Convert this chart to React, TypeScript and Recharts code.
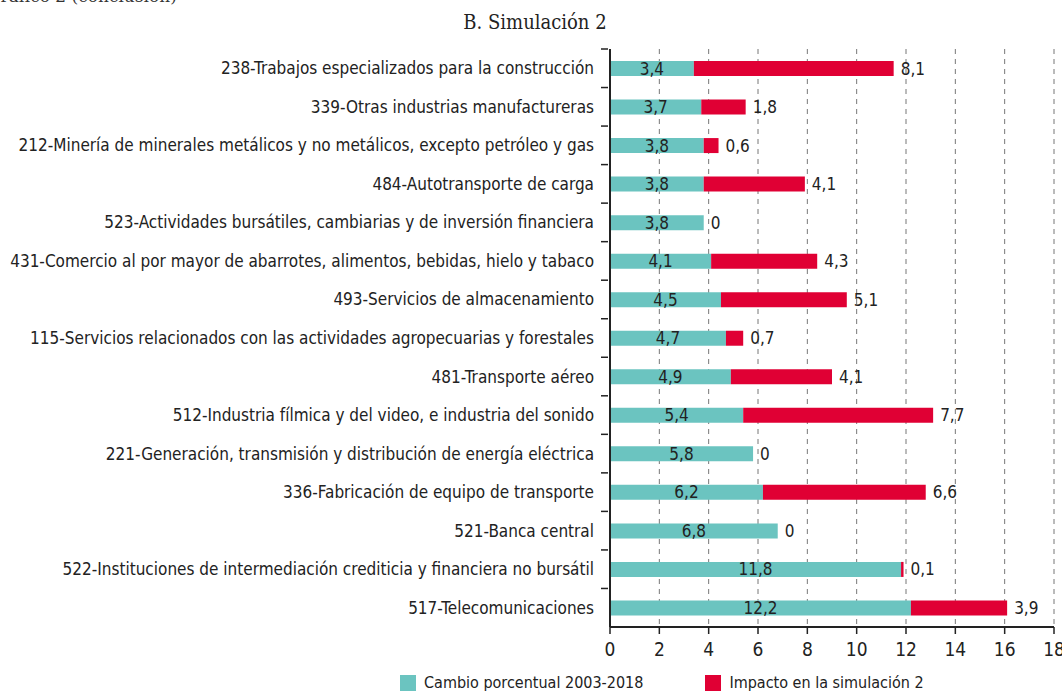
import React from 'react'
import { BarChart, Bar, XAxis, YAxis, CartesianGrid, LabelList } from 'recharts'

const categories = [
  '238-Trabajos especializados para la construcción',
  '339-Otras industrias manufactureras',
  '212-Minería de minerales metálicos y no metálicos, excepto petróleo y gas',
  '484-Autotransporte de carga',
  '523-Actividades bursátiles, cambiarias y de inversión financiera',
  '431-Comercio al por mayor de abarrotes, alimentos, bebidas, hielo y tabaco',
  '493-Servicios de almacenamiento',
  '115-Servicios relacionados con las actividades agropecuarias y forestales',
  '481-Transporte aéreo',
  '512-Industria fílmica y del video, e industria del sonido',
  '221-Generación, transmisión y distribución de energía eléctrica',
  '336-Fabricación de equipo de transporte',
  '521-Banca central',
  '522-Instituciones de intermediación crediticia y financiera no bursátil',
  '517-Telecomunicaciones'
]
const cambio = [3.4, 3.7, 3.8, 3.8, 3.8, 4.1, 4.5, 4.7, 4.9, 5.4, 5.8, 6.2, 6.8, 11.8, 12.2]
const impacto = [8.1, 1.8, 0.6, 4.1, 0, 4.3, 5.1, 0.7, 4.1, 7.7, 0, 6.6, 0, 0.1, 3.9]
const xTicks = [0, 2, 4, 6, 8, 10, 12, 14, 16, 18]

const TEAL = '#6bc4c0'
const RED = '#e00034'
const FONT = '"Liberation Sans Narrow", "DejaVu Sans Condensed", sans-serif'

const data = categories.map((name, i) => ({ name, cambio: cambio[i], impacto: impacto[i] }))

const PLOT_TOP = 49
const PLOT_BOTTOM = 627
const BAND = (PLOT_BOTTOM - PLOT_TOP) / categories.length

const fmt = (v: any) => String(v).replace('.', ',')

// category tick: label at band centre, small tick mark at band top
const CategoryTick = (props: any) => {
  const { x, y, payload } = props
  return (
    <g>
      <line x1={x - 7} x2={x} y1={y - BAND / 2} y2={y - BAND / 2} stroke="#222" strokeWidth={1.5} />
      <text x={x - 14} y={y} dy={6} textAnchor="end" fontSize={17} fill="#222" fontFamily={FONT}>
        {payload.value}
      </text>
    </g>
  )
}

// zero-width red bars draw no label, so the teal bar puts a "0" after itself
const ZeroLabel = (props: any) => {
  const { x, y, width, height, index } = props
  if (impacto[index] !== 0) return null
  return (
    <text x={x + width + 7} y={y + height / 2} dy={6} fontSize={17} fill="#222" fontFamily={FONT}>
      0
    </text>
  )
}

export default function App() {
  return (
    <div style={{ position: 'absolute', left: 0, top: 0, width: 1062, height: 693, background: '#fff', overflow: 'hidden' }}>
      <div style={{ position: 'absolute', left: -13, top: -14, fontFamily: '"DejaVu Serif", serif', fontSize: 17, color: '#333' }}>
        Gráfico 2 (conclusión)
      </div>
      <div style={{ position: 'absolute', left: 0, width: 1070, top: 10, textAlign: 'center', fontFamily: '"DejaVu Serif Condensed", "DejaVu Serif", serif', fontSize: 20, color: '#222' }}>
        B. Simulación 2
      </div>
      <BarChart
        width={1062}
        height={693}
        data={data}
        layout="vertical"
        margin={{ top: PLOT_TOP, right: 8, bottom: 693 - PLOT_BOTTOM - 34, left: 0 }}
        barSize={15}
      >
        <CartesianGrid horizontal={false} stroke="#777" strokeDasharray="5 5" />
        <XAxis
          type="number"
          domain={[0, 18]}
          ticks={xTicks}
          interval={0}
          height={34}
          tick={{ fontSize: 19, fill: '#222', fontFamily: FONT }}
          tickLine={{ stroke: '#222', strokeWidth: 1.5 }}
          axisLine={{ stroke: '#222', strokeWidth: 2 }}
          tickSize={7}
          tickMargin={9}
        />
        <YAxis
          type="category"
          dataKey="name"
          width={610}
          interval={0}
          tick={<CategoryTick />}
          tickLine={false}
          tickSize={0}
          axisLine={{ stroke: '#222', strokeWidth: 2 }}
        />
        <Bar dataKey="cambio" stackId="a" fill={TEAL} isAnimationActive={false}>
          <LabelList dataKey="cambio" position="center" formatter={fmt} fill="#222" fontSize={17} fontFamily={FONT} />
          <LabelList dataKey="impacto" content={<ZeroLabel />} />
        </Bar>
        <Bar dataKey="impacto" stackId="a" fill={RED} isAnimationActive={false}>
          <LabelList dataKey="impacto" position="right" offset={7} formatter={fmt} fill="#222" fontSize={17} fontFamily={FONT} />
        </Bar>
      </BarChart>
      <div style={{ position: 'absolute', top: 673, left: 400, display: 'flex', alignItems: 'center', fontFamily: FONT, fontSize: 16, color: '#222' }}>
        <span style={{ width: 16, height: 16, background: TEAL, display: 'inline-block', marginRight: 8 }} />
        <span style={{ marginRight: 62 }}>Cambio porcentual 2003-2018</span>
        <span style={{ width: 16, height: 16, background: RED, display: 'inline-block', marginRight: 8 }} />
        <span>Impacto en la simulación 2</span>
      </div>
    </div>
  )
}
